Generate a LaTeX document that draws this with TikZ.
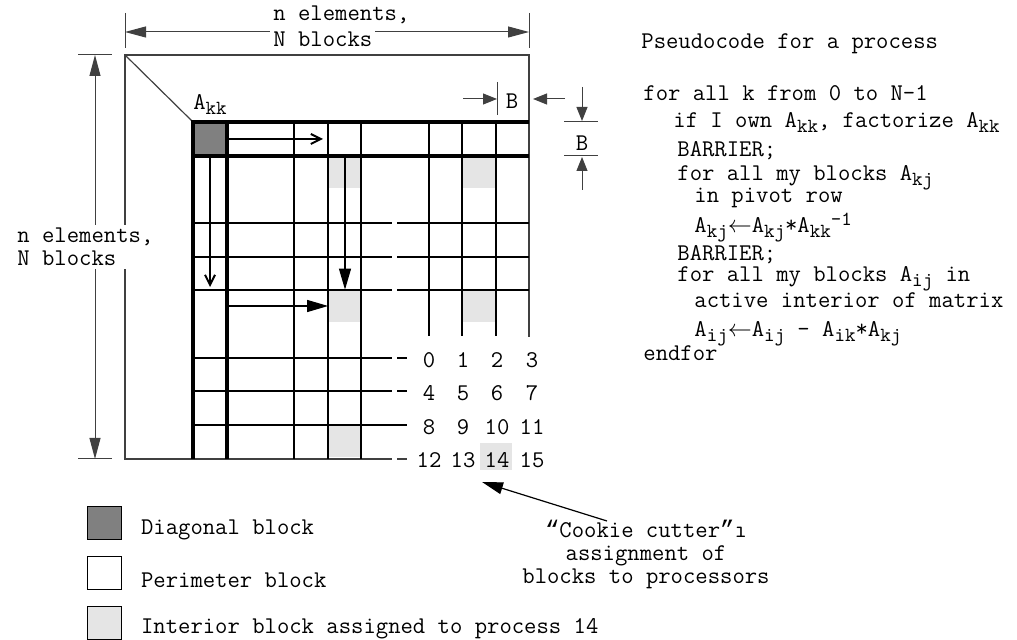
\documentclass[tikz,border=0pt]{standalone}
\usepackage{fontspec}
\newfontfamily\quotefont{Liberation Mono}
\usetikzlibrary{arrows.meta}

\newcommand{\lowsub}[1]{\raisebox{-0.4ex}[0pt][0pt]{\fontsize{10}{10}\selectfont#1}}
\newcommand{\highsup}[1]{\raisebox{0.7ex}[0pt][0pt]{\fontsize{10}{10}\selectfont#1}}

\tikzset{
  gridline/.style={line width=0.6pt},
  heavyline/.style={line width=1.8pt},
  dimline/.style={line width=0.5pt,black!75},
  bigtips/.style={{Triangle[length=10.5pt,width=5.5pt]}-{Triangle[length=10.5pt,width=5.5pt]}},
  bigtip/.style={-{Triangle[length=10.5pt,width=6pt]}},
  smalltip/.style={-{Triangle[length=7pt,width=5.5pt]}},
  opentip/.style={-{Straight Barb[length=5pt,width=5pt]}},
  gblock/.style={fill=black!10,inner sep=0pt,minimum width=16.5pt,minimum height=16pt},
  legendbox/.style={draw,line width=0.5pt,inner sep=0pt,minimum width=17pt,minimum height=16.5pt},
  codeline/.style={anchor=base west,inner sep=0pt}
}

\begin{document}
\begin{tikzpicture}[x=0.5pt,y=-0.5pt,every node/.style={font=\ttfamily\fontsize{12}{11.5}\selectfont}]
\useasboundingbox (0,0) rectangle (1017,640);

% blocks held by process 14, and the diagonal block
\node[gblock] (g1) at (345,172) {};
\node[gblock] (g2) at (479,172) {};
\node[gblock] (g3) at (345,306) {};
\node[gblock] (g4) at (479,306) {};
\node[gblock] (g5) at (345,441) {};
\node[fill=black!50,inner sep=0pt,minimum width=17pt,minimum height=17pt] (akk) at (210,139) {};
\node[anchor=base] (akklabel) at (210,110) {A\lowsub{kk}};

% the matrix
\draw[gridline,black!75] (529,337) -- (529,55) -- (125,55) -- (125,459) -- (392,459) (397,459) -- (407,459);
\draw[gridline,black!75] (125,55) -- (193,122);
\draw[gridline] (294,122) -- (294,459) (328,122) -- (328,459) (361,122) -- (361,459);
\draw[gridline] (429,122) -- (429,336) (462,122) -- (462,336) (496,122) -- (496,336);
\draw[gridline] (193,223) -- (392,223) (397,223) -- (529,223)
                (193,257) -- (392,257) (397,257) -- (529,257)
                (193,290) -- (392,290) (397,290) -- (529,290)
                (193,358) -- (392,358) (397,358) -- (407,358)
                (193,391) -- (392,391) (397,391) -- (407,391)
                (193,425) -- (407,425);
\draw[heavyline] (529,122) -- (193,122) -- (193,459);
\draw[heavyline] (193,156) -- (529,156) (227,122) -- (227,459);

% updates
\coordinate (rowend) at (323,139);
\coordinate (colend) at (210,287);
\coordinate (rowstart) at (227,306);
\draw[line width=1pt,opentip] (akk.east) -- (rowend);
\draw[line width=1pt,opentip] (akk.south) -- (colend);
\draw[line width=0.6pt,bigtip] (g1.north) -- (g3.north);
\draw[line width=0.6pt,bigtip] (rowstart) -- (g3.west);

% processor numbers
\node[fill=black!10,inner sep=0pt,minimum width=16pt,minimum height=13.5pt] (hl) at (496,456.5) {};
\foreach \r [count=\i from 0] in {360,393,427,460}
  \foreach \c [count=\j from 0] in {429,463,497,532} {
    \pgfmathtruncatemacro\num{4*\i+\j}
    \node (p\num) at (\c,\r) {\num};
  }

% dimensions
\coordinate (topleft) at (125,32);
\coordinate (topright) at (529,32);
\draw[dimline] (125,13) -- (125,48) (529,13) -- (529,48);
\draw[dimline,bigtips] (topleft) -- (topright);
\node[anchor=west,fill=white,inner sep=1.5pt] (toplabel1) at (270,15) {n elements,};
\node[anchor=west,fill=white,inner sep=1.5pt] (toplabel2) at (270,39) {N blocks};

\coordinate (sidetop) at (95,55);
\coordinate (sidebottom) at (95,459);
\draw[dimline] (78,55) -- (112,55) (78,459) -- (112,459);
\draw[dimline,bigtips] (sidetop) -- (sidebottom);
\node[anchor=west,fill=white,align=left,inner sep=1.5pt] (sidelabel) at (14,247) {n elements,\\N blocks};

\coordinate (bl1) at (463,99);
\coordinate (bl2) at (497,99);
\coordinate (br1) at (565,99);
\coordinate (br2) at (533,99);
\draw[dimline] (497,82) -- (497,115);
\draw[dimline,smalltip] (bl1) -- (bl2);
\draw[dimline,smalltip] (br1) -- (br2);
\node (bwidth) at (512,101) {B};

\coordinate (bt1) at (582,87);
\coordinate (bt2) at (582,121);
\coordinate (bb1) at (582,190);
\coordinate (bb2) at (582,157);
\draw[dimline] (564,122) -- (598,122) (564,156) -- (598,156);
\draw[dimline,smalltip] (bt1) -- (bt2);
\draw[dimline,smalltip] (bb1) -- (bb2);
\node (bheight) at (582,143) {B};

% pseudocode
\node[codeline] (title) at (641,49) {Pseudocode for a process};
\node[codeline] (c1) at (643,101) {for all k from 0 to N-1};
\node[codeline] (c2) at (673,128) {if I own A\lowsub{kk}, factorize A\lowsub{kk}};
\node[codeline] (c3) at (677,157) {BARRIER;};
\node[codeline] (c4) at (677,181) {for all my blocks A\lowsub{kj}};
\node[codeline] (c5) at (694,203) {in pivot row};
\node[codeline] (c6) at (694,233) {A\lowsub{kj}$\leftarrow$A\lowsub{kj}*A\lowsub{kk}\highsup{-1}};
\node[codeline] (c7) at (677,261) {BARRIER;};
\node[codeline] (c8) at (677,282) {for all my blocks A\lowsub{ij} in};
\node[codeline] (c9) at (694,308) {active interior of matrix};
\node[codeline] (c10) at (694,337) {A\lowsub{ij}$\leftarrow$A\lowsub{ij} - A\lowsub{ik}*A\lowsub{kj}};
\node[codeline] (c11) at (643,361) {endfor};

% cookie cutter
\node[align=center] (cookie) at (646,554) {{\quotefont “}Cookie cutter{\quotefont ”}ı\\assignment of\\blocks to processors};
\coordinate (cuttail) at (607,521);
\coordinate (cuttip) at (482,482);
\draw[line width=0.6pt,bigtip] (cuttail) -- (cuttip);

% legend
\node[legendbox,fill=black!50] (legdiag) at (104,523.5) {};
\node[legendbox] (legper) at (104,573.5) {};
\node[legendbox,fill=black!10] (legint) at (104,623) {};
\node[anchor=west] (txtdiag) at (134,530) {Diagonal block};
\node[anchor=west] (txtper) at (134,580) {Perimeter block};
\node[anchor=west] (txtint) at (134,629) {Interior block assigned to process 14};
\end{tikzpicture}
\end{document}
